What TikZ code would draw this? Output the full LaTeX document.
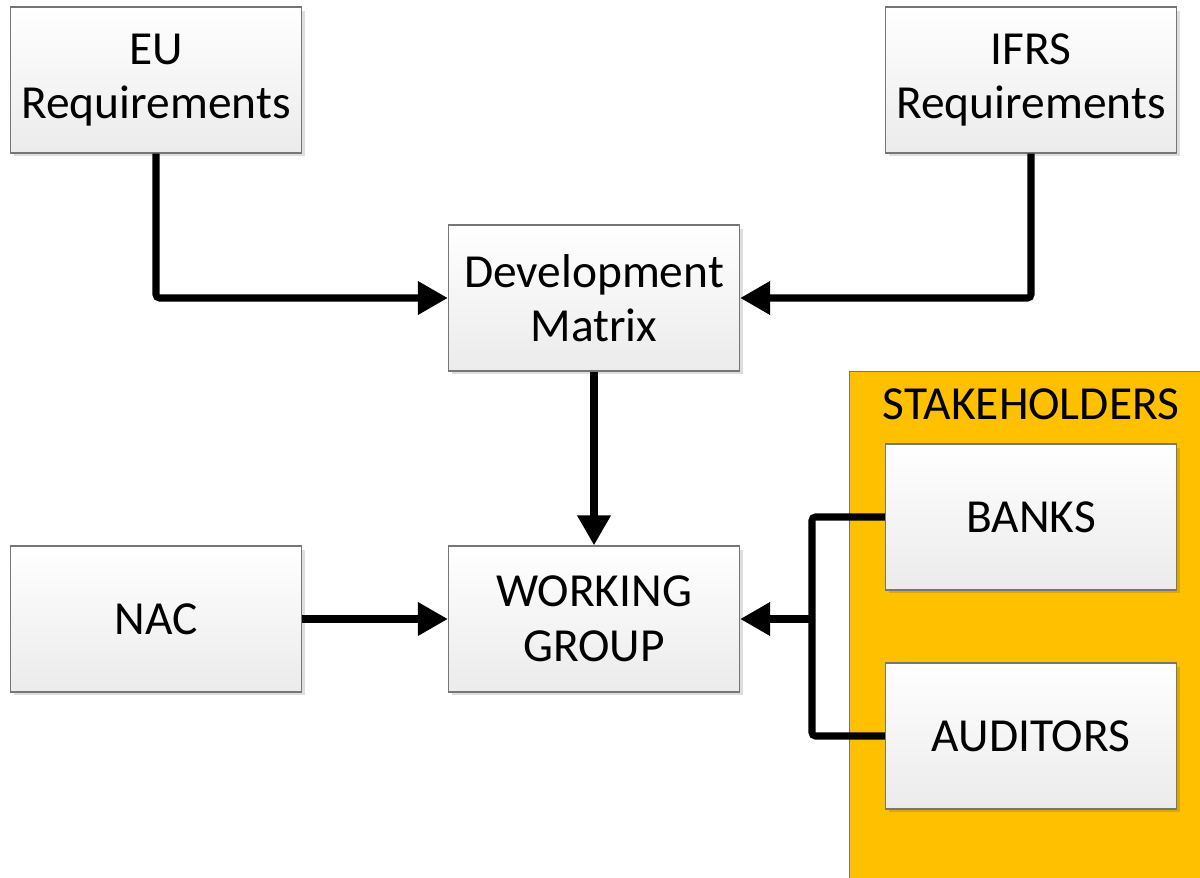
\documentclass[tikz,border=0pt]{standalone}
\usepackage{fontspec}
\setmainfont{Carlito}
\usetikzlibrary{arrows.meta,shadows}
\definecolor{boxedge}{HTML}{767676}
\definecolor{boxbottom}{HTML}{EBEBEB}
\definecolor{stakefill}{HTML}{FFC000}
\tikzset{
  every node/.style={font=\fontsize{27}{31}\selectfont},
  procbox/.style={rectangle, draw=boxedge, line width=0.8pt,
    top color=white, bottom color=boxbottom,
    minimum width=5.82cm, minimum height=2.92cm,
    align=center, inner sep=0pt,
    drop shadow={shadow xshift=0.07cm, shadow yshift=-0.07cm,
      fill=black, opacity=0.13}},
  groupbox/.style={rectangle, draw=boxedge, line width=0.8pt, fill=stakefill,
    minimum width=7.4cm, minimum height=10.6cm, anchor=north west, inner sep=0pt},
  flow/.style={line width=4pt, draw=black, rounded corners=2pt},
  flowarrow/.style={flow, -{Triangle[length=0.6cm,width=0.64cm]}}
}
\begin{document}
\begin{tikzpicture}[x=0.02cm,y=-0.02cm]
  \clip (0,0) rectangle (1200,878);
  \fill[white] (0,0) rectangle (1200,878);

  % stakeholder group panel
  \node[groupbox] (stake) at (849,371) {};
  \node (stakelabel) at (1031,404) {STAKEHOLDERS};

  % process boxes
  \node[procbox] (eu)   at (156,80)  {EU\\Requirements};
  \node[procbox] (ifrs) at (1031,80) {IFRS\\Requirements};
  \node[procbox] (dev)  at (594,298) {Development\\Matrix};
  \node[procbox] (wg)   at (594,619) {WORKING\\GROUP};
  \node[procbox] (nac)  at (156,619) {NAC};
  \node[procbox] (banks) at (1031,517) {BANKS};
  \node[procbox] (aud)   at (1031,736) {AUDITORS};

  \coordinate (join) at (812,619);

  % connectors
  \draw[flowarrow] (eu.south) |- (dev.west);
  \draw[flowarrow] (ifrs.south) |- (dev.east);
  \draw[flowarrow] (dev.south) -- (wg.north);
  \draw[flowarrow] (nac.east) -- (wg.west);
  \draw[flow] (banks.west) -| (join);
  \draw[flow] (aud.west) -| (join);
  \draw[flowarrow] (join) -- (wg.east);
\end{tikzpicture}
\end{document}
